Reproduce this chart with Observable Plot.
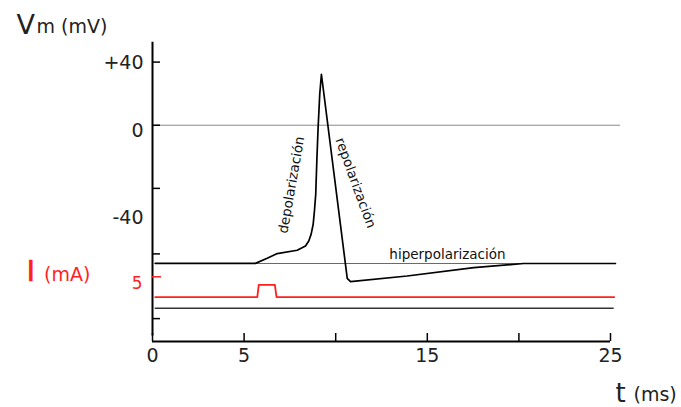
<!DOCTYPE html>
<html><head><meta charset="utf-8">
<script src="https://cdn.jsdelivr.net/npm/d3@7"></script>
<script src="https://cdn.jsdelivr.net/npm/@observablehq/plot@0.6"></script>
<style>body{margin:0;background:#fff;} svg{display:block;}</style>
</head><body><div id="chart"></div>
<script>
// Membrane potential trace (time in ms, Vm in mV)
const timeMs = [0.15, 5.62, 6.26, 6.81, 7.9, 8.35, 8.53, 8.66, 8.77, 8.84, 8.91, 8.97, 9.04, 9.13, 9.22, 10.63, 10.81, 13.9, 17.54, 20.25, 25.27];
const vmMv   = [-87.5, -87.5, -84.3, -81.3, -79.2, -76.5, -73.3, -69.0, -62.7, -54.3, -43.7, -22.6, -1.5, 19.8, 32.3, -97.0, -99.1, -95.5, -90.2, -87.6, -87.6];

// Stimulus current (time in ms, I in mA)
const iTimeMs = [0.15, 5.72, 5.8, 6.68, 6.77, 25.2];
const iValueMa = [0, 0, 3, 3, 0, 0];
// the current trace sits below the Vm trace on the shared vertical axis
const iZeroMv = -108.9;   // where I = 0 mA is drawn
const iMvPerMa = 2.58;    // vertical size of 1 mA, in mV units
const toAxis = i => iZeroMv + i * iMvPerMa;

// Reference lines
const refLevels = [0, -87.6];          // 0 mV and resting potential
const refEnds = [25.55, 25.27];
const baseLevel = [-115.9];            // black baseline under the current trace
const baseEnd = [25.2];

// Axes
const vmTicks = [40, 0, -40, -81.5, -122.5];
const iTicksMa = [5];
const vmLabels = ["+40", "0", "-40"];
const vmLabelPos = [39.5, -3.8, -58.6];
const iLabels = ["5"];
const iLabelPos = [-100.4];
const timeTicks = [0, 5, 10, 15, 20, 25];
const timeLabels = [0, 5, 15, 25];
const yAxisSpan = [-133.5, 52.6];

// Annotations
const notes = ["depolarización", "repolarización", "hiperpolarización"];
const noteT = [7.59, 11.08, 16.1];
const noteV = [-37.8, -36.6, -82.2];
const noteRotate = [-80, 70, 0];

const vmData = timeMs.map((t, k) => ({t, v: vmMv[k]}));
const iData = iTimeMs.map((t, k) => ({t, v: toAxis(iValueMa[k])}));
const refData = refLevels.map((v, k) => ({v, end: refEnds[k]}));
const noteData = notes.map((s, k) => ({s, t: noteT[k], v: noteV[k], r: noteRotate[k]}));
const vmLabelData = vmLabels.map((s, k) => ({s, v: vmLabelPos[k]}));
const iLabelData = iLabels.map((s, k) => ({s, v: iLabelPos[k]}));

const red = "#ff1f1f";
const font = "DejaVu Sans";

const chart = Plot.plot({
  width: 681, height: 407,
  marginLeft: 152, marginRight: 71, marginTop: 41.7, marginBottom: 66,
  style: {fontFamily: font, background: "#fff"},
  x: {domain: [0, 25], axis: null, label: null},
  y: {domain: [-137, 52.6], axis: null, label: null},
  marks: [
    // reference lines
    Plot.ruleY(refData.slice(0, 1), {y: "v", x1: 0.15, x2: "end", stroke: "#8a8a8a", strokeWidth: 1}),
    Plot.ruleY(refData.slice(1), {y: "v", x1: 0.15, x2: "end", stroke: "#6a6a6a", strokeWidth: 1.2}),
    Plot.ruleY(baseLevel, {y: d => d, x1: 0.15, x2: baseEnd[0], stroke: "#333", strokeWidth: 1.6}),
    // traces
    Plot.line(iData, {x: "t", y: "v", stroke: red, strokeWidth: 1.8}),
    Plot.line(vmData, {x: "t", y: "v", stroke: "#000", strokeWidth: 1.7, strokeLinejoin: "round"}),
    // axis lines
    Plot.ruleX([0], {y1: yAxisSpan[0], y2: yAxisSpan[1], stroke: "#000", strokeWidth: 2}),
    Plot.ruleY([-137], {x1: 0, x2: 25, stroke: "#000", strokeWidth: 2}),
    // ticks
    Plot.axisY(vmTicks, {anchor: "left", label: null, tickSize: -8, tickFormat: () => "", strokeWidth: 1.5}),
    Plot.axisY(iTicksMa.map(toAxis), {anchor: "left", label: null, tickSize: -9, tickFormat: () => "", stroke: red, strokeWidth: 1.5}),
    Plot.axisX(timeTicks, {anchor: "bottom", label: null, tickSize: -8, tickFormat: () => "", strokeWidth: 1.5}),
    // tick labels
    Plot.text(vmLabelData, {y: "v", text: "s", frameAnchor: "left", textAnchor: "end", dx: -9, fontSize: 19, fill: "#222"}),
    Plot.text(iLabelData, {y: "v", text: "s", frameAnchor: "left", textAnchor: "end", dx: -10, fontSize: 17, fill: red}),
    Plot.text(timeLabels, {x: d => d, text: d => String(d), frameAnchor: "bottom", lineAnchor: "middle", dy: 14, fontSize: 19, fill: "#222"}),
    // annotations
    Plot.text(noteData, {x: "t", y: "v", text: "s", rotate: "r", fontSize: 13.5, fill: "#111"}),
    // axis titles
    Plot.text(["V"], {frameAnchor: "top-left", textAnchor: "start", lineAnchor: "middle", dx: -136, dy: -17.3, fontSize: 27, fill: "#222"}),
    Plot.text(["m (mV)"], {frameAnchor: "top-left", textAnchor: "start", lineAnchor: "middle", dx: -116, dy: -14.8, fontSize: 19, fill: "#222"}),
    Plot.text(["I"], {frameAnchor: "top-left", textAnchor: "start", lineAnchor: "middle", dx: -126, dy: 230, fontSize: 29, fill: red, stroke: red, strokeWidth: 0.6}),
    Plot.text(["(mA)"], {frameAnchor: "top-left", textAnchor: "start", lineAnchor: "middle", dx: -108.5, dy: 232.9, fontSize: 19, fill: red}),
    Plot.text(["t"], {frameAnchor: "top-left", textAnchor: "start", lineAnchor: "middle", dx: 463, dy: 351, fontSize: 26, fill: "#222"}),
    Plot.text(["(ms)"], {frameAnchor: "top-left", textAnchor: "start", lineAnchor: "middle", dx: 481, dy: 352.5, fontSize: 19, fill: "#222"})
  ]
});
document.getElementById("chart").append(chart);
</script>
</body></html>
